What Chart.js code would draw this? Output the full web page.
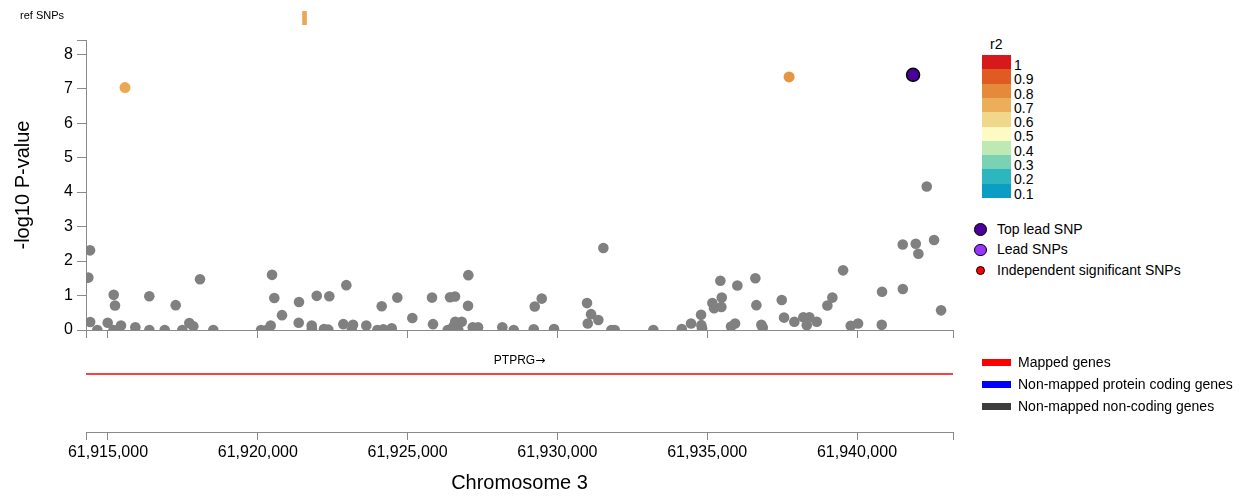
<!DOCTYPE html>
<html><head><meta charset="utf-8">
<script src="https://cdn.jsdelivr.net/npm/chart.js@4/dist/chart.umd.min.js"></script>
<style>
body{margin:0;background:#fff;width:1252px;height:498px;overflow:hidden;position:relative;font-family:"Liberation Sans",Arial,Helvetica,sans-serif;}
canvas{position:absolute;left:0;}
.t{position:absolute;white-space:nowrap;color:#000;font-size:14px;line-height:16px;}
.b{position:absolute;}
</style></head><body>
<canvas id="ref" width="970" height="30" style="top:0px"></canvas>
<canvas id="main" width="970" height="324" style="top:26px"></canvas>
<canvas id="gene" width="970" height="158" style="top:340px"></canvas>
<div id="legend"></div>
<script>
// ---- axis ranges / ticks ----
const xMin = 61914266, xMax = 61943204;
const xTicks = [61915000, 61920000, 61925000, 61930000, 61935000, 61940000];
const yTicks = [0, 1, 2, 3, 4, 5, 6, 7, 8];
const yMax = 8.41;
const chromLabel = 'Chromosome 3';
const yLabel = '-log10 P-value';

// ---- SNPs without LD (grey) ----
const snpPos = [61914343,61914400,61914405,61914643,61914990,61915191,61915234,61915185,61915434,61915912,
61916379,61916380,61916893,61917260,61917481,61917714,61917848,61918071,61918515,61920108,
61920298,61920431,61920475,61920551,61920808,61921376,61921366,61921800,61921805,61921967,
61922210,61922387,61922354,61922855,61922955,61923135,61923178,61923622,61923990,61924136,
61924190,61924470,61924657,61925158,61925815,61925849,61926340,61926416,61926583,61926590,
61926527,61926807,61926694,61927027,61927017,61927174,61927351,61928162,61928543,61929210,
61929244,61929477,61929888,61930989,61931123,61931013,61931367,61931534,61931801,61931914,
61933203,61934151,61934461,61934795,61934805,61934828,61935172,61935229,61935486,61935439,
61935473,61935796,61935930,61936006,61936607,61936641,61936808,61936854,61937488,61937565,
61937909,61938209,61938410,61938323,61938657,61939011,61939177,61939535,61939791,61940035,
61940836,61940826,61941527,61941530,61941961,61942048,61942328,61942572,61942806];
const snpLogP = [1.52,2.31,0.23,0.00,0.21,1.02,0.71,0.00,0.13,0.08,
0.98,0.00,0.00,0.72,0.00,0.20,0.11,1.47,0.00,0.00,
0.00,0.13,1.60,0.93,0.43,0.81,0.21,0.13,0.03,0.99,
0.03,0.98,0.01,0.17,1.30,0.00,0.15,0.13,0.00,0.69,
0.02,0.05,0.94,0.35,0.94,0.17,0.00,0.95,0.97,0.24,
0.10,0.24,0.00,1.59,0.70,0.08,0.08,0.08,0.00,0.02,
0.68,0.91,0.03,0.78,0.46,0.19,0.29,2.38,0.00,0.00,
0.00,0.03,0.19,0.44,0.14,0.05,0.78,0.63,0.94,1.43,
0.67,0.10,0.19,1.29,1.50,0.72,0.15,0.07,0.87,0.36,
0.24,0.37,0.37,0.14,0.24,0.71,0.94,1.73,0.12,0.19,
1.11,0.15,2.48,1.19,2.50,2.21,4.16,2.61,0.57];

// ---- SNPs in LD with lead SNP ----
const ldPos = [61915568, 61937733];
const ldLogP = [7.03, 7.34];
const ldR2 = [0.72, 0.77];

// ---- top lead SNP ----
const topLeadPos = [61941871];
const topLeadLogP = [7.40];

// ---- reference SNPs track ----
const refSnpPos = [61921560];
const refSnpR2 = [0.72];

// ---- genes ----
const geneNames = ['PTPRG'];
const geneStart = [61547243];
const geneEnd = [62283290];
const geneStrand = ['+'];

// ---- legends ----
const r2Levels = [1, 0.9, 0.8, 0.7, 0.6, 0.5, 0.4, 0.3, 0.2, 0.1];
const r2Colors = ['#d7191c','#e05a24','#e5893a','#ebae5b','#f1d78a','#fefac4','#bfe9b3','#7ad2b5','#2db6c0','#0b9dc3'];
const snpLegendLabels = ['Top lead SNP', 'Lead SNPs', 'Independent significant SNPs'];
const snpLegendColors = ['#4d0099', '#9933ff', '#ff0000'];
const geneLegendLabels = ['Mapped genes', 'Non-mapped protein coding genes', 'Non-mapped non-coding genes'];
const geneLegendColors = ['#ff0000', '#0000ff', '#3d3d3d'];

// ---- helpers ----
function hex2rgb(h){h=h.replace('#','');return [0,2,4].map(i=>parseInt(h.substr(i,2),16));}
function r2Color(r){
  const lv=[...r2Levels].reverse(), cl=[...r2Colors].reverse();
  if(r<=lv[0]) return cl[0];
  for(let i=0;i<lv.length-1;i++){
    if(r<=lv[i+1]){const t=(r-lv[i])/(lv[i+1]-lv[i]);const a=hex2rgb(cl[i]),b=hex2rgb(cl[i+1]);
      return 'rgb('+a.map((v,k)=>Math.round(v+(b[k]-v)*t)).join(',')+')';}
  }
  return cl[cl.length-1];
}
const fmt = v => v.toLocaleString('en-US');
const FONT = '"Liberation Sans", Arial, Helvetica, sans-serif';
const AXIS = '#8a8a8a';
Chart.defaults.font.family = FONT;
Chart.defaults.color = '#000';

function xAxis(showLabels, extra){
  return Object.assign({
    type:'linear', min:xMin, max:xMax,
    afterBuildTicks: s => { s.ticks = [xMin, ...xTicks, xMax].map(v=>({value:v})); },
    ticks:{autoSkip:false, maxRotation:0, minRotation:0, padding:3, font:{size:16}, color:'#000',
      callback: v => (showLabels && xTicks.includes(v)) ? fmt(v) : ''},
    grid:{drawOnChartArea:false, drawTicks:true, tickLength:8, color:AXIS, lineWidth:1},
    border:{display:true, color:AXIS, width:1}
  }, extra||{});
}
const common = {responsive:false, animation:false, devicePixelRatio:1,
  plugins:{legend:{display:false}, tooltip:{enabled:false}}, events:[]};

// ---- ref SNPs chart ----
new Chart(document.getElementById('ref'), {
  type:'bar',
  data:{datasets:[{data: refSnpPos.map(x=>({x, y:[0,1]})), barThickness:4,
    backgroundColor: refSnpR2.map(r2Color), borderWidth:0}]},
  options:Object.assign({}, common, {
    layout:{padding:{left:86, right:17, top:11, bottom:5}},
    scales:{x:{type:'linear', min:xMin, max:xMax, display:false, offset:false}, y:{min:0, max:1, display:false}}
  }),
  plugins:[{id:'reflabel', afterDraw(c){const ctx=c.ctx;ctx.save();ctx.font='11px '+FONT;ctx.fillStyle='#000';
    ctx.textBaseline='middle';ctx.fillText('ref SNPs',20,15.5);ctx.restore();}}]
});

// ---- main plot ----
new Chart(document.getElementById('main'), {
  type:'scatter',
  data:{datasets:[
    {data: topLeadPos.map((x,i)=>({x, y:topLeadLogP[i]})), radius:6.5, backgroundColor:snpLegendColors[0], borderColor:'#000', borderWidth:1.5, order:1},
    {data: ldPos.map((x,i)=>({x, y:ldLogP[i]})), radius:5.5, backgroundColor: ldR2.map(r2Color), borderWidth:0, order:2},
    {data: snpPos.map((x,i)=>({x, y:snpLogP[i]})), radius:5.3, backgroundColor:'#808080', borderWidth:0, order:3}
  ]},
  options:Object.assign({}, common, {
    layout:{padding:{left:0, right:17, top:14, bottom:0}},
    scales:{
      x: xAxis(false, {afterFit: s => { s.height = 20; }}),
      y: {type:'linear', min:0, max:yMax,
        afterBuildTicks: s => { s.ticks = [...yTicks, yMax].map(v=>({value:v})); },
        afterFit: s => { s.width = 86; },
        ticks:{autoSkip:false, padding:4, font:{size:16}, color:'#000', callback: v => yTicks.includes(v) ? String(v) : ''},
        grid:{drawOnChartArea:false, drawTicks:true, tickLength:9, color:AXIS, lineWidth:1},
        border:{display:true, color:AXIS, width:1},
        title:{display:true, text:yLabel, font:{size:20}, color:'#000', padding:{top:11, bottom:0}}
      }
    }
  })
});

// ---- gene track + chromosome axis ----
const geneRowY = 0.63;
new Chart(document.getElementById('gene'), {
  type:'scatter',
  data:{datasets: geneNames.map((g,i)=>({data:[{x:geneStart[i], y:geneRowY},{x:geneEnd[i], y:geneRowY}],
    showLine:true, pointRadius:0, borderColor:geneLegendColors[0], borderWidth:1.5}))},
  options:Object.assign({}, common, {
    layout:{padding:{left:86, right:17, top:0, bottom:0}},
    scales:{
      x: xAxis(true, {afterFit: s => { s.height = 66; },
        title:{display:true, text:chromLabel, font:{size:20}, color:'#000', padding:{top:0, bottom:3}}}),
      y: {min:0, max:1, display:false}
    }
  }),
  plugins:[{id:'genelabels', afterDatasetsDraw(c){
    const ctx=c.ctx, xs=c.scales.x, ys=c.scales.y;
    ctx.save();ctx.fillStyle='#000';ctx.textBaseline='middle';ctx.textAlign='left';
    const f1='12px '+FONT, f2='12px "DejaVu Sans", sans-serif';
    geneNames.forEach((g,i)=>{
      const a=Math.max(geneStart[i], xs.min), b=Math.min(geneEnd[i], xs.max);
      const px=(xs.getPixelForValue(a)+xs.getPixelForValue(b))/2;
      const py=ys.getPixelForValue(geneRowY)-13;
      const arrow = geneStrand[i]==='+'?'\u2192':'\u2190';
      ctx.font=f1; const w1=ctx.measureText(g).width;
      ctx.font=f2; const w2=ctx.measureText(arrow).width;
      const x0=px-(w1+w2)/2;
      ctx.font=f1; ctx.fillText(g, x0, py);
      ctx.font=f2; ctx.fillText(arrow, x0+w1, py);
    });
    ctx.restore();}}]
});

// ---- HTML legends ----
const L = document.getElementById('legend');
function add(html){L.insertAdjacentHTML('beforeend', html);}
add(`<div class="t" style="left:990px;top:35.5px">r2</div>`);
const boxTop = 55, boxH = 14.3;
r2Levels.forEach((lv,i)=>{
  const top = boxTop + i*boxH;
  add(`<div class="b" style="left:982px;top:${top}px;width:29px;height:${boxH+0.3}px;background:${r2Colors[i]}"></div>`);
  add(`<div class="t" style="left:1014px;top:${top+boxH+0.5-12.85}px">${lv}</div>`);
});
const snpY = [229.3, 250, 270.7], snpR = [6.3, 6.3, 4.7];
snpLegendLabels.forEach((lab,i)=>{
  const r = snpR[i];
  add(`<div class="b" style="left:${980.5-r}px;top:${snpY[i]-r}px;width:${2*r-2}px;height:${2*r-2}px;border:1px solid #000;border-radius:50%;background:${snpLegendColors[i]}"></div>`);
  add(`<div class="t" style="left:997px;top:${snpY[i]+4.3-12.85}px">${lab}</div>`);
});
const gY = [359.3, 381.3, 403.3];
geneLegendLabels.forEach((lab,i)=>{
  add(`<div class="b" style="left:982px;top:${gY[i]}px;width:29px;height:7px;background:${geneLegendColors[i]}"></div>`);
  add(`<div class="t" style="left:1018px;top:${gY[i]+7.2-12.85}px">${lab}</div>`);
});
</script>
</body></html>
